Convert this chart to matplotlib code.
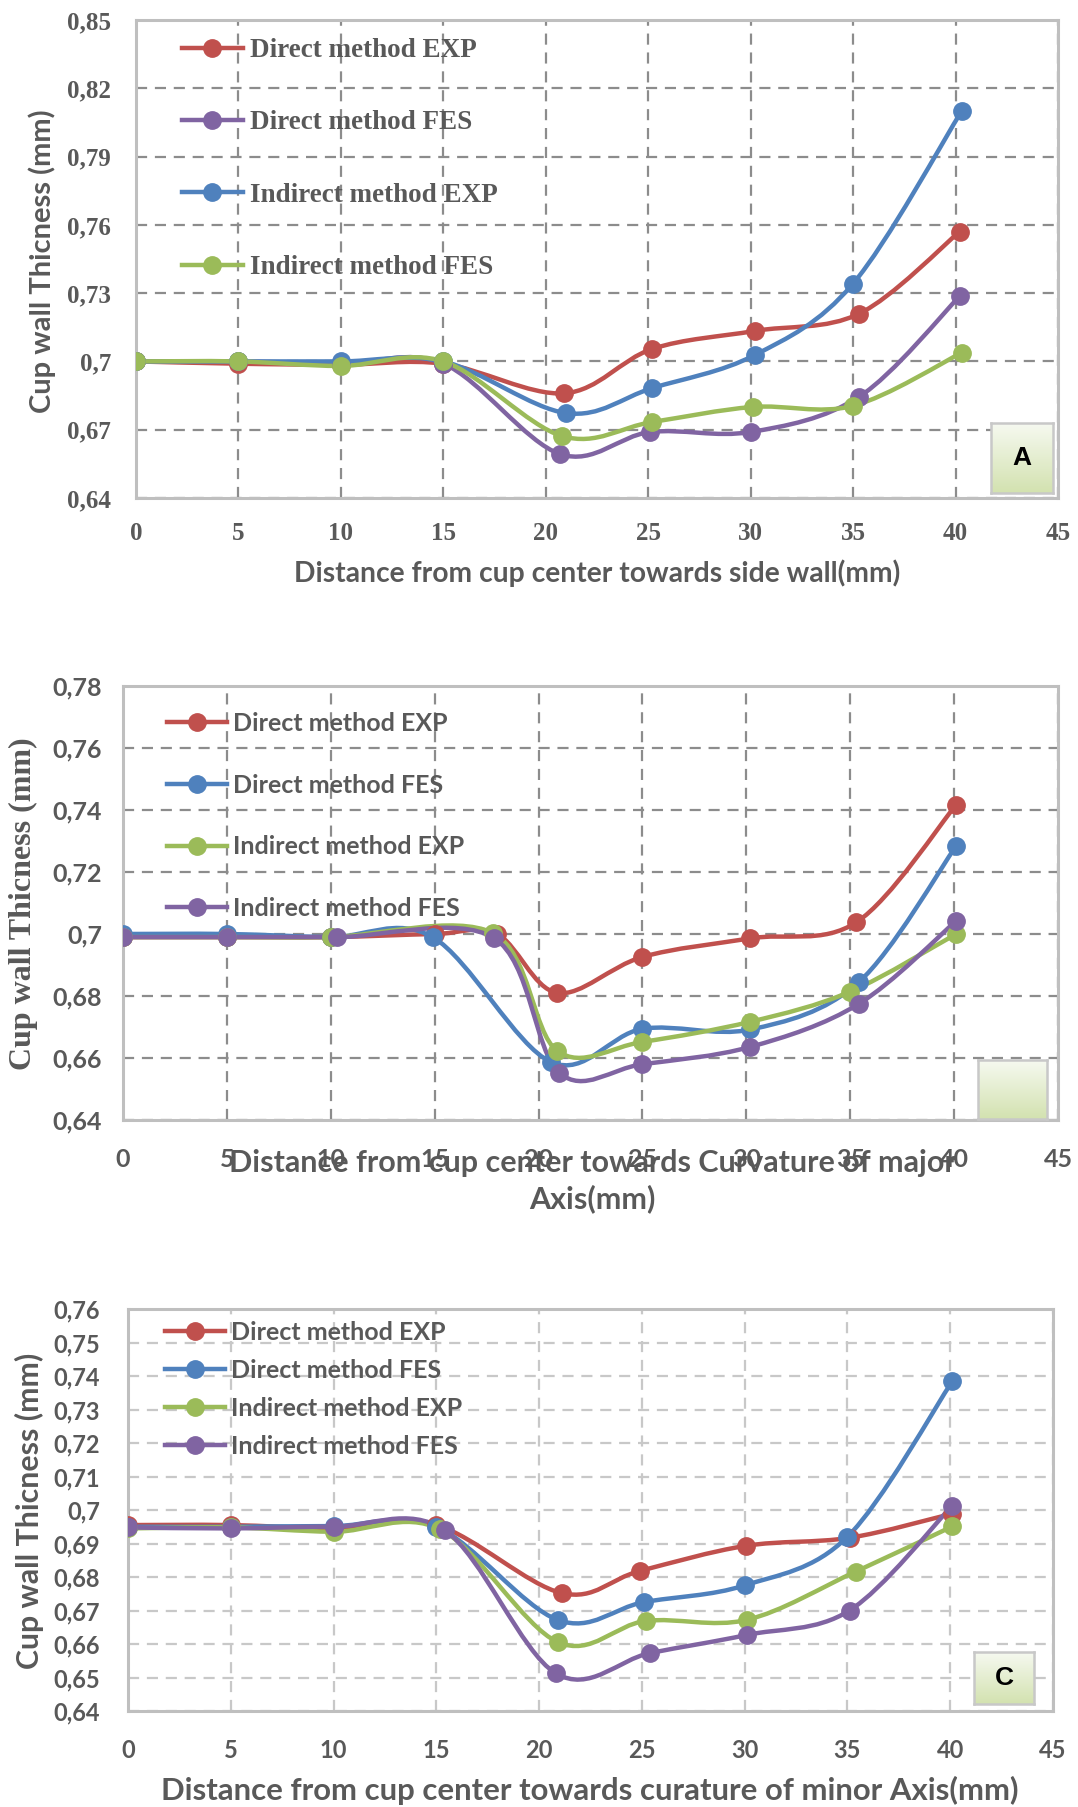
import matplotlib.pyplot as plt
import numpy as np
from matplotlib.path import Path
from matplotlib.patches import PathPatch
from matplotlib.lines import Line2D
from matplotlib.colors import LinearSegmentedColormap

# ---- data ----
labels_A = ["Direct method EXP", "Direct method FES", "Indirect method EXP", "Indirect method FES"]
colors_A = ["#C0504D", "#8064A2", "#4F81BD", "#9BBB59"]
xA_dexp = [0, 5, 10, 15, 20.9, 25.2, 30.2, 35.3, 40.2]
yA_dexp = [0.700, 0.699, 0.6985, 0.699, 0.686, 0.7055, 0.7134, 0.721, 0.757]
xA_dfes = [0, 5, 10, 15, 20.7, 25.1, 30.0, 35.3, 40.2]
yA_dfes = [0.700, 0.700, 0.699, 0.699, 0.6593, 0.669, 0.669, 0.6845, 0.7286]
xA_iexp = [0, 5, 10, 15, 21.0, 25.2, 30.2, 35.0, 40.3]
yA_iexp = [0.700, 0.700, 0.700, 0.700, 0.6773, 0.6883, 0.7028, 0.7342, 0.810]
xA_ifes = [0, 5, 10, 15, 20.8, 25.2, 30.1, 35.0, 40.3]
yA_ifes = [0.700, 0.700, 0.698, 0.700, 0.6672, 0.6734, 0.680, 0.6805, 0.7038]

labels_B = ["Direct method EXP", "Direct method FES", "Indirect method EXP", "Indirect method FES"]
colors_B = ["#C0504D", "#4F81BD", "#9BBB59", "#8064A2"]
xB_dexp = [0, 5, 10, 15, 18, 20.9, 25.0, 30.2, 35.3, 40.1]
yB_dexp = [0.699, 0.699, 0.699, 0.700, 0.700, 0.681, 0.6926, 0.6986, 0.7038, 0.7417]
xB_dfes = [0, 5, 10, 14.9, 20.6, 25.0, 30.2, 35.4, 40.1]
yB_dfes = [0.700, 0.700, 0.699, 0.699, 0.6587, 0.6694, 0.6692, 0.6844, 0.7284]
xB_iexp = [0, 5, 10, 17.8, 20.9, 25.0, 30.2, 35.0, 40.1]
yB_iexp = [0.699, 0.699, 0.699, 0.7003, 0.6623, 0.6652, 0.6717, 0.6814, 0.700]
xB_ifes = [0, 5, 10.3, 17.85, 21.0, 25.0, 30.2, 35.4, 40.1]
yB_ifes = [0.699, 0.699, 0.699, 0.6987, 0.6552, 0.658, 0.6636, 0.6774, 0.7042]

labels_C = ["Direct method EXP", "Direct method FES", "Indirect method EXP", "Indirect method FES"]
colors_C = ["#C0504D", "#4F81BD", "#9BBB59", "#8064A2"]
xC_dexp = [0, 5, 10, 15, 21.1, 24.9, 30.05, 35.1, 40.1]
yC_dexp = [0.6955, 0.6955, 0.6945, 0.6955, 0.6752, 0.6818, 0.6893, 0.6917, 0.6989]
xC_dfes = [0, 5, 10, 15, 20.9, 25.1, 30.0, 35.0, 40.1]
yC_dfes = [0.695, 0.695, 0.6952, 0.695, 0.6672, 0.6725, 0.6775, 0.692, 0.7384]
xC_iexp = [0, 5, 10, 15.2, 20.9, 25.2, 30.1, 35.4, 40.1]
yC_iexp = [0.6945, 0.6948, 0.6935, 0.6942, 0.6606, 0.6669, 0.6672, 0.6816, 0.6951]
xC_ifes = [0, 5, 10, 15.4, 20.8, 25.4, 30.1, 35.1, 40.1]
yC_ifes = [0.6948, 0.6945, 0.695, 0.694, 0.6513, 0.6573, 0.6627, 0.670, 0.7013]

W, H = 1078, 1807
GRAY = "#595959"
SERIF = "Liberation Serif"
SANS = "Lato"

fig = plt.figure(figsize=(W / 100, H / 100), dpi=100)


def box(l, t, r, b):
    return [l / W, 1 - b / H, (r - l) / W, (b - t) / H]


def smooth_path(x, y):
    # excel-like smoothed line through the points (bezier segments)
    p = np.column_stack([x, y]).astype(float)
    n = len(p)
    verts = [p[0]]
    codes = [Path.MOVETO]
    for i in range(n - 1):
        p0 = p[i - 1] if i > 0 else p[i]
        p3 = p[i + 2] if i + 2 < n else p[i + 1]
        verts += [p[i] + (p[i + 1] - p0) / 6, p[i + 1] - (p3 - p[i]) / 6, p[i + 1]]
        codes += [Path.CURVE4] * 3
    return Path(verts, codes)


def panel(rect, series, colors, yticks, tickfont, grid_col, ypad, xpad, tsize):
    ax = fig.add_axes(rect)
    for (x, y), c in zip(series, colors):
        ax.add_patch(PathPatch(smooth_path(x, y), fill=False, edgecolor=c, lw=3.2, zorder=3,
                               capstyle="round"))
        ax.plot(x, y, "o", color=c, ms=12.5, zorder=4)
    ax.set_xlim(0, 45)
    ax.set_ylim(yticks[0], yticks[-1])
    ax.set_xticks(range(0, 50, 5))
    ax.set_yticks(yticks)
    ax.set_yticklabels([("%g" % v).replace(".", ",") for v in yticks])
    ax.grid(True, color=grid_col, ls=(0, (5, 3.5)), lw=1.6)
    ax.set_axisbelow(True)
    for s in ax.spines.values():
        s.set_color("#BFBFBF")
        s.set_linewidth(2.2)
    ax.tick_params(length=0, labelcolor=GRAY, labelsize=tsize)
    ax.tick_params(axis="y", pad=ypad)
    ax.tick_params(axis="x", pad=xpad)
    for t in ax.get_xticklabels() + ax.get_yticklabels():
        t.set_family(tickfont)
        t.set_weight("bold")
    handles = [Line2D([], [], color=c, lw=3.2, marker="o", ms=12.5) for c in colors]
    return ax, handles


def tag(rect, text):
    bx = fig.add_axes(rect)
    grad = np.linspace(0, 1, 64).reshape(-1, 1)
    cm = LinearSegmentedColormap.from_list("g", ["#F6F9F0", "#D3E2B0"])
    bx.imshow(grad, cmap=cm, aspect="auto", extent=(0, 1, 0, 1), origin="upper")
    bx.set_xticks([])
    bx.set_yticks([])
    for s in bx.spines.values():
        s.set_color("#C8C8C8")
        s.set_linewidth(1.8)
    if text:
        bx.text(0.5, 0.5, text, ha="center", va="center", fontsize=19, weight="bold",
                family="Liberation Sans", color="black")


# ---- panel A ----
axA, hA = panel(box(136, 20, 1058, 498),
                [(xA_dexp, yA_dexp), (xA_dfes, yA_dfes), (xA_iexp, yA_iexp), (xA_ifes, yA_ifes)],
                colors_A, [0.64, 0.67, 0.70, 0.73, 0.76, 0.79, 0.82, 0.85],
                SERIF, "#8C8C8C", 18, 17, 18)
axA.legend(hA, labels_A, loc="upper left", bbox_to_anchor=(182 / W, 1 - 38 / H),
           bbox_transform=fig.transFigure, frameon=False, borderpad=0, borderaxespad=0,
           handlelength=2.25, handletextpad=0.25, labelspacing=1.75, numpoints=1,
           prop=dict(family=SERIF, weight="bold", size=19.5), labelcolor=GRAY)
fig.text(42 / W, 1 - 261 / H, "Cup wall Thicness (mm)", rotation=90, ha="center", va="center",
         family=SANS, weight="bold", size=21, color=GRAY)
fig.text(597 / W, 1 - 573 / H, "Distance from cup center towards side wall(mm)", ha="center",
         va="center", family=SANS, weight="bold", size=20.3, color=GRAY)
tag(box(991, 423, 1053, 493), "A")

# ---- panel B ----
axB, hB = panel(box(123, 686, 1058, 1120),
                [(xB_dexp, yB_dexp), (xB_dfes, yB_dfes), (xB_iexp, yB_iexp), (xB_ifes, yB_ifes)],
                colors_B, [0.64, 0.66, 0.68, 0.70, 0.72, 0.74, 0.76, 0.78],
                SANS, "#8C8C8C", 15, 20, 18)
axB.legend(hB, labels_B, loc="upper left", bbox_to_anchor=(167 / W, 1 - 712 / H),
           bbox_transform=fig.transFigure, frameon=False, borderpad=0, borderaxespad=0,
           handlelength=2.4, handletextpad=0.25, labelspacing=1.55, numpoints=1,
           prop=dict(family=SANS, weight="bold", size=18), labelcolor=GRAY)
fig.text(23 / W, 1 - 904 / H, "Cup wall Thicness (mm)", rotation=90, ha="center", va="center",
         family=SERIF, weight="bold", size=23, color=GRAY)
fig.text(592 / W, 1 - 1181 / H, "Distance from cup center towards Curvature of major\nAxis(mm)",
         ha="center", va="center", family=SANS, weight="bold", size=22, color=GRAY,
         linespacing=1.3)
tag(box(978, 1060, 1047, 1119), "")

# ---- panel C ----
axC, hC = panel(box(128, 1309, 1053, 1711),
                [(xC_dexp, yC_dexp), (xC_dfes, yC_dfes), (xC_iexp, yC_iexp), (xC_ifes, yC_ifes)],
                colors_C, [round(0.64 + 0.01 * i, 2) for i in range(13)],
                SANS, "#C8C8C8", 20, 20, 17)
axC.legend(hC, labels_C, loc="upper left", bbox_to_anchor=(165 / W, 1 - 1321 / H),
           bbox_transform=fig.transFigure, frameon=False, borderpad=0, borderaxespad=0,
           handlelength=2.4, handletextpad=0.25, labelspacing=0.6, numpoints=1,
           prop=dict(family=SANS, weight="bold", size=18), labelcolor=GRAY)
fig.text(29 / W, 1 - 1511 / H, "Cup wall Thicness (mm)", rotation=90, ha="center", va="center",
         family=SANS, weight="bold", size=21.8, color=GRAY)
fig.text(590 / W, 1 - 1790 / H, "Distance from cup center towards curature of minor Axis(mm)",
         ha="center", va="center", family=SANS, weight="bold", size=22.4, color=GRAY)
tag(box(974, 1652, 1034, 1704), "C")

fig.savefig("out.png", dpi=100)
